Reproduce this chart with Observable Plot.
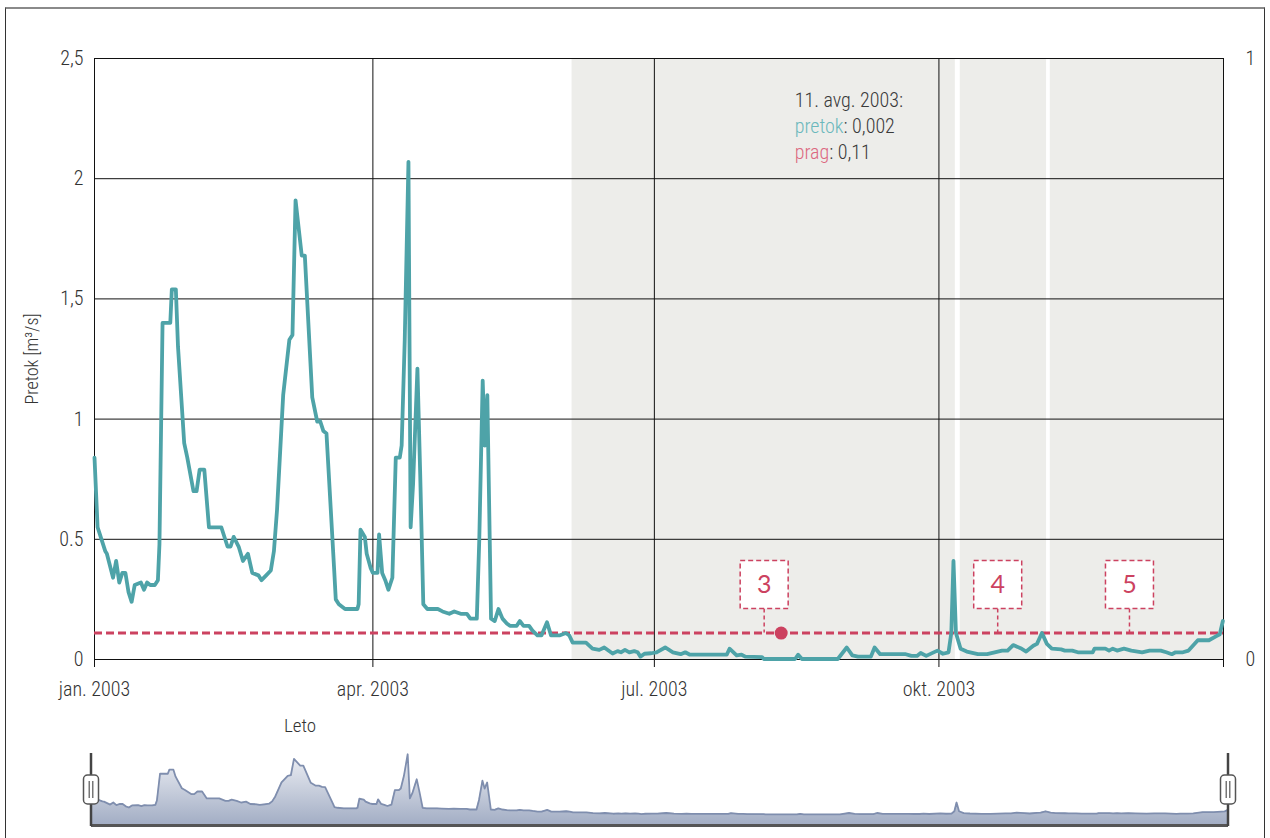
<!DOCTYPE html>
<html>
<head>
<meta charset="utf-8">
<script src="https://cdn.jsdelivr.net/npm/d3@7"></script>
<script src="https://cdn.jsdelivr.net/npm/@observablehq/plot@0.6"></script>
<style>
  html, body { margin: 0; padding: 0; background: #fff; }
  #wrap { position: relative; width: 1270px; height: 838px; overflow: hidden;
    font-family: "Roboto Condensed", "Liberation Sans Narrow", "DejaVu Sans Condensed", "Arial Narrow", sans-serif; }
  #frame { position: absolute; left: 5px; top: 7px; width: 1258px; height: 900px;
    border-top: 2px solid #8a8a8a; border-left: 1px solid #333; border-right: 1px solid #333; }
  #main { position: absolute; left: 0; top: 0; }
  #nav { position: absolute; left: 0; top: 740px; }
  #leto { position: absolute; left: 300px; top: 725px; transform: translate(-50%, -50%);
    font-size: 19px; color: #333; font-weight: 300; }
  svg text { font-family: "Roboto Condensed", "Liberation Sans Narrow", "DejaVu Sans Condensed", "Arial Narrow", sans-serif; font-weight: 300; }
  svg text.boxnum { font-family: Lato, "Open Sans", sans-serif; font-weight: 400; }
</style>
</head>
<body>
<div id="wrap">
  <div id="frame"></div>
  <div id="main"></div>
  <div id="leto">Leto</div>
  <div id="nav"></div>
</div>
<script>
// ---- data ----
// day of year 2003 (0 = 1 Jan) and discharge (m3/s)
const days = [0,1,2,3.5,4,6,7,8,9,10,11,12,13,15,16,17,18,19.5,20.5,21,22,24.5,25,26.3,27,29,30,32,33,34,35.5,37,41,43,44,45,46.6,48,49.6,51,53,54,55.5,57,58,59,61,63,64,65,67,68,70.4,72,73,74,75,77.5,78,79,81,85,85.4,86,87.4,88,89.3,90,91.5,92,93,94,95,96.3,97.4,98.7,99.3,100.3,101.5,102.2,103,104.4,105.3,106.3,107.6,111,112.5,114.7,116.3,118.4,120.4,121.5,123.6,124.4,125.5,126.2,127,128.2,129.4,130.6,131.9,133.3,134.3,136.5,137.5,138.7,140.5,141.6,143.2,144.5,146.3,147.6,150.3,152.4,153.5,154.6,158.9,161,163.2,164.8,167.5,169.1,170.2,171.5,172.9,174.5,175.6,176.5,177.8,180,181.7,184.5,187,189.5,191,192.5,204.4,205.3,207.6,209.2,210.4,215.8,216.4,222,226.5,227.5,228.7,240.3,243.2,245,246.8,251,252.2,254,262.3,264.1,265.9,267.1,268.9,272.5,274.3,276.1,277,277.7,278.5,280,282,285.6,288.6,291,293.4,295.2,297,299.4,301.2,303.5,304.7,306.3,307.9,309.5,312.5,313.7,316.1,317.9,322.7,323.3,326.8,328,329.2,330.6,332.8,335.2,338.7,341.1,344.7,346.5,348.3,349.5,351.9,353.7,356.7,360.3,362.7,363.8,364.8];
const flow = [0.84,0.55,0.51,0.45,0.44,0.34,0.41,0.32,0.36,0.36,0.28,0.24,0.31,0.32,0.29,0.32,0.31,0.31,0.33,0.48,1.40,1.40,1.54,1.54,1.30,0.90,0.84,0.70,0.70,0.79,0.79,0.55,0.55,0.47,0.47,0.51,0.47,0.41,0.44,0.36,0.35,0.33,0.35,0.37,0.45,0.62,1.10,1.33,1.35,1.91,1.68,1.68,1.09,0.99,0.99,0.95,0.94,0.37,0.25,0.23,0.21,0.21,0.23,0.54,0.51,0.44,0.38,0.36,0.36,0.52,0.36,0.33,0.29,0.34,0.84,0.84,0.89,1.33,2.07,0.55,0.73,1.21,0.77,0.23,0.21,0.21,0.20,0.19,0.20,0.19,0.19,0.17,0.17,0.50,1.16,0.89,1.10,0.17,0.16,0.21,0.17,0.15,0.14,0.14,0.16,0.14,0.14,0.12,0.10,0.10,0.155,0.10,0.10,0.11,0.10,0.07,0.07,0.045,0.04,0.05,0.025,0.035,0.03,0.04,0.03,0.035,0.03,0.012,0.024,0.026,0.03,0.05,0.03,0.022,0.03,0.02,0.02,0.045,0.017,0.02,0.012,0.01,0.002,0.002,0.002,0.02,0.002,0.002,0.05,0.017,0.012,0.012,0.05,0.022,0.022,0.015,0.015,0.027,0.015,0.037,0.024,0.03,0.11,0.41,0.11,0.045,0.033,0.022,0.022,0.03,0.037,0.037,0.06,0.047,0.033,0.057,0.065,0.11,0.065,0.045,0.042,0.037,0.037,0.03,0.03,0.045,0.045,0.037,0.045,0.037,0.045,0.037,0.03,0.037,0.037,0.03,0.022,0.03,0.03,0.037,0.08,0.08,0.097,0.105,0.16];

const prag = 0.11;                       // threshold
const bandStartDays = [154.4, 279.9, 309.0];
const bandEndDays   = [278.3, 307.8, 365.0];
const annotDays   = [216.5, 292.0, 334.6];
const annotLabels = ["3", "4", "5"];
const selectedDay = 222;                 // 11 Aug 2003
const selectedFlow = 0.002;
const tooltipTitle = "11. avg. 2003:";
const tooltipSeries = ["pretok", "prag"];
const tooltipValues = [": 0,002", ": 0,11"];

const yTicks = [0, 0.5, 1, 1.5, 2, 2.5];
const yTickLabels = ["0", "0.5", "1", "1,5", "2", "2,5"];
const y2TickLabels = ["0", "1"];
const xTickDays = [0, 90, 181, 273, 365];
const xTickLabels = ["jan. 2003", "apr. 2003", "jul. 2003", "okt. 2003", ""];
const yTitle = "Pretok [m³/s]";

// ---- helpers ----
const t0 = Date.UTC(2003, 0, 1);
const toDate = d => new Date(t0 + d * 864e5);
const series = days.map((d, i) => ({date: toDate(d), value: flow[i]}));
const bands = bandStartDays.map((s, i) => ({x1: toDate(s), x2: toDate(bandEndDays[i])}));
const annots = annotDays.map((d, i) => ({date: toDate(d), label: annotLabels[i]}));
const xTicks = xTickDays.map(toDate);
const xLabelMap = new Map(xTicks.map((t, i) => [t.getTime(), xTickLabels[i]]));
const yLabelMap = new Map(yTicks.map((t, i) => [t, yTickLabels[i]]));
const xDomain = [toDate(0), toDate(365)];

const TEAL = "#4ea3a8";
const RED = "#cc4260";
const FONT = '"Roboto Condensed", "Liberation Sans Narrow", "DejaVu Sans Condensed", "Arial Narrow", sans-serif';

function tooltipMark(index, scales, values, dim) {
  const ns = "http://www.w3.org/2000/svg";
  const g = document.createElementNS(ns, "g");
  const x0 = scales.x(toDate(selectedDay)) + 14;
  const y0 = scales.y(2.5);
  const lines = [[[tooltipTitle, "#3a3a3a"]],
                 [[tooltipSeries[0], "#6bb8bc"], [tooltipValues[0], "#3a3a3a"]],
                 [[tooltipSeries[1], "#dc6880"], [tooltipValues[1], "#3a3a3a"]]];
  lines.forEach((parts, i) => {
    const t = document.createElementNS(ns, "text");
    t.setAttribute("x", x0);
    t.setAttribute("y", y0 + 49 + i * 26);
    t.setAttribute("font-size", "20");
    t.setAttribute("text-anchor", "start");
    t.setAttribute("font-family", FONT);
    parts.forEach(([s, c]) => {
      const sp = document.createElementNS(ns, "tspan");
      sp.setAttribute("fill", c);
      sp.textContent = s;
      t.appendChild(sp);
    });
    g.appendChild(t);
  });
  return g;
}

const main = Plot.plot({
  width: 1270,
  height: 740,
  marginLeft: 94,
  marginRight: 47,
  marginTop: 58,
  marginBottom: 81,
  style: {fontFamily: FONT, fontSize: "20px", color: "#333", background: "transparent"},
  x: {type: "utc", domain: xDomain},
  y: {domain: [0, 2.5]},
  marks: [
    Plot.rect(bands, {x1: "x1", x2: "x2", fill: "#ededea"}),
    Plot.gridY(yTicks.slice(1, -1), {stroke: "#111", strokeOpacity: 1, strokeWidth: 1}),
    Plot.gridX(xTicks.slice(1, -1), {stroke: "#111", strokeOpacity: 1, strokeWidth: 1}),
    Plot.frame({stroke: "#111", strokeWidth: 1}),
    Plot.axisY(yTicks, {anchor: "left", tickSize: 0, tickPadding: 11, tickFormat: d => yLabelMap.get(d), label: null, fontSize: 20, fill: "#333"}),
    Plot.axisY([0, 2.5], {anchor: "right", tickSize: 0, tickPadding: 22, tickFormat: d => y2TickLabels[d === 0 ? 0 : 1], label: null, fontSize: 20, fill: "#333"}),
    Plot.axisX(xTicks, {anchor: "bottom", tickSize: 8, tickPadding: 14, tickFormat: d => xLabelMap.get(d.getTime()), label: null, fontSize: 20, fill: "#333", stroke: "#111"}),
    Plot.text([yTitle], {text: d => d, frameAnchor: "left", textAnchor: "middle", rotate: -90, dx: -62, fontSize: 18, fill: "#333"}),
    Plot.ruleY([prag], {stroke: RED, strokeWidth: 3, strokeDasharray: "8,4"}),
    Plot.line(series, {x: "date", y: "value", stroke: TEAL, strokeWidth: 3.8, strokeLinejoin: "round", strokeLinecap: "round"}),
    Plot.ruleX(annots, {x: "date", y1: prag, y2: prag, insetTop: -24, stroke: RED, strokeWidth: 1.5, strokeDasharray: "4,3"}),
    Plot.dot(annots, {x: "date", y: prag, dy: -48.5, symbol: "square", r: 27.08, fill: "white", stroke: RED, strokeWidth: 1.5, strokeDasharray: "5,3"}),
    Plot.text(annots, {x: "date", y: prag, dy: -48.5, text: "label", fill: RED, fontSize: 25}),
    Plot.dot([{date: toDate(selectedDay), v: prag}], {x: "date", y: "v", r: 6.5, fill: RED}),
    tooltipMark
  ]
});
// number labels inside the boxes use a regular, non-condensed face
main.querySelectorAll("g[aria-label='text'] text").forEach(t => {
  if (annotLabels.includes(t.textContent)) t.setAttribute("class", "boxnum");
});
document.getElementById("main").appendChild(main);

// ---- navigator ----
const navMin = -0.38, navMax = 2.2;
function gradDefs() {
  const ns = "http://www.w3.org/2000/svg";
  const defs = document.createElementNS(ns, "defs");
  defs.innerHTML = `<linearGradient id="navgrad" x1="0" y1="0" x2="0" y2="1">
     <stop offset="0" stop-color="#eef0f5"/><stop offset="1" stop-color="#a2adc4"/></linearGradient>`;
  return defs;
}
function handles(index, scales) {
  const ns = "http://www.w3.org/2000/svg";
  const g = document.createElementNS(ns, "g");
  const yb = scales.y(navMin);
  xDomain.forEach(d => {
    const x = scales.x(d);
    g.innerHTML += `<line x1="${x}" x2="${x}" y1="${yb - 72}" y2="${yb + 1}" stroke="#444" stroke-width="2.5"/>
      <rect x="${x - 7.5}" y="${yb - 50}" width="15" height="29" rx="4" fill="#fff" stroke="#555" stroke-width="1.5"/>
      <line x1="${x - 1.8}" x2="${x - 1.8}" y1="${yb - 44}" y2="${yb - 27}" stroke="#555" stroke-width="1.2"/>
      <line x1="${x + 1.8}" x2="${x + 1.8}" y1="${yb - 44}" y2="${yb - 27}" stroke="#555" stroke-width="1.2"/>`;
  });
  return g;
}
const nav = Plot.plot({
  width: 1270,
  height: 98,
  marginLeft: 91,
  marginRight: 42,
  marginTop: 10,
  marginBottom: 13,
  style: {background: "transparent"},
  x: {type: "utc", domain: xDomain, axis: null},
  y: {domain: [navMin, navMax], axis: null},
  marks: [
    gradDefs,
    Plot.areaY(series, {x: "date", y1: () => navMin, y2: "value", fill: "url(#navgrad)"}),
    Plot.line(series, {x: "date", y: "value", stroke: "#7f8eae", strokeWidth: 1.8}),
    Plot.ruleY([navMin], {stroke: "#555", strokeWidth: 3}),
    handles
  ]
});
document.getElementById("nav").appendChild(nav);
</script>
</body>
</html>
